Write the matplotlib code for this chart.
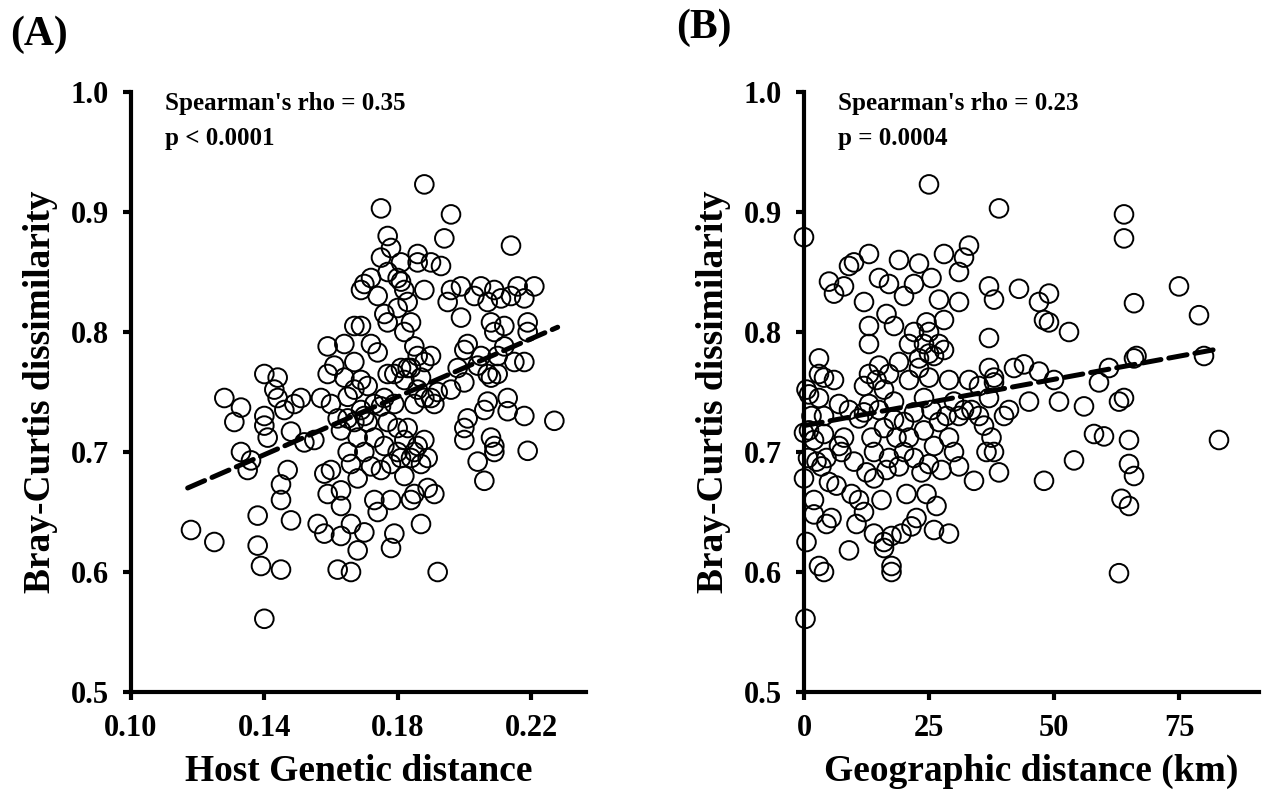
import matplotlib
matplotlib.use("Agg")
import matplotlib.pyplot as plt

plt.rcParams['font.family'] = ['Liberation Serif', 'DejaVu Serif']
plt.rcParams['font.weight'] = 'bold'

# ---------------- Panel A data: host genetic distance vs Bray-Curtis ----------------
genetic_x = [0.118, 0.125, 0.128, 0.131, 0.133, 0.133, 0.135, 0.136, 0.138, 0.138,
             0.139, 0.140, 0.140, 0.140, 0.141, 0.140, 0.143, 0.144, 0.144, 0.145,
             0.145, 0.145, 0.146, 0.147, 0.148, 0.148, 0.149, 0.151, 0.152, 0.155,
             0.156, 0.157, 0.158, 0.158, 0.159, 0.159, 0.159, 0.160, 0.160, 0.161,
             0.162, 0.162, 0.163, 0.163, 0.163, 0.163, 0.164, 0.164, 0.165, 0.165,
             0.165, 0.166, 0.166, 0.166, 0.167, 0.167, 0.167, 0.167, 0.168, 0.168,
             0.168, 0.169, 0.169, 0.169, 0.169, 0.170, 0.170, 0.170, 0.170, 0.171,
             0.171, 0.172, 0.172, 0.172, 0.173, 0.173, 0.173, 0.174, 0.174, 0.174,
             0.175, 0.175, 0.175, 0.175, 0.176, 0.176, 0.176, 0.177, 0.177, 0.177,
             0.177, 0.177, 0.178, 0.178, 0.178, 0.178, 0.179, 0.179, 0.179, 0.180,
             0.180, 0.180, 0.180, 0.181, 0.181, 0.181, 0.181, 0.182, 0.182, 0.182,
             0.182, 0.182, 0.183, 0.183, 0.183, 0.184, 0.184, 0.184, 0.184, 0.185,
             0.185, 0.185, 0.185, 0.186, 0.186, 0.186, 0.186, 0.186, 0.187, 0.187,
             0.187, 0.188, 0.188, 0.188, 0.188, 0.188, 0.189, 0.189, 0.190, 0.190,
             0.190, 0.191, 0.191, 0.192, 0.192, 0.193, 0.194, 0.195, 0.196, 0.196,
             0.196, 0.198, 0.199, 0.199, 0.200, 0.200, 0.200, 0.200, 0.201, 0.201,
             0.203, 0.204, 0.204, 0.205, 0.205, 0.206, 0.206, 0.207, 0.207, 0.207,
             0.208, 0.208, 0.208, 0.209, 0.209, 0.209, 0.209, 0.210, 0.210, 0.211,
             0.212, 0.212, 0.213, 0.213, 0.214, 0.214, 0.215, 0.216, 0.218, 0.218,
             0.218, 0.219, 0.219, 0.219, 0.221, 0.227]
genetic_bc = [0.635, 0.625, 0.745, 0.725, 0.737, 0.700, 0.685, 0.693, 0.647, 0.622,
              0.605, 0.722, 0.730, 0.765, 0.712, 0.561, 0.752, 0.745, 0.762, 0.602,
              0.673, 0.660, 0.735, 0.685, 0.717, 0.643, 0.740, 0.745, 0.708, 0.710,
              0.640, 0.745, 0.632, 0.682, 0.665, 0.765, 0.788, 0.740, 0.685, 0.772,
              0.602, 0.728, 0.655, 0.630, 0.668, 0.718, 0.790, 0.762, 0.746, 0.728,
              0.700, 0.640, 0.600, 0.690, 0.805, 0.775, 0.752, 0.725, 0.618, 0.678,
              0.712, 0.835, 0.805, 0.760, 0.735, 0.840, 0.633, 0.730, 0.700, 0.755,
              0.725, 0.688, 0.790, 0.845, 0.740, 0.712, 0.660, 0.650, 0.830, 0.783,
              0.903, 0.862, 0.738, 0.685, 0.815, 0.745, 0.705, 0.880, 0.850, 0.808,
              0.765, 0.725, 0.870, 0.660, 0.690, 0.620, 0.632, 0.765, 0.740, 0.845,
              0.820, 0.720, 0.700, 0.858, 0.842, 0.770, 0.695, 0.835, 0.800, 0.760,
              0.710, 0.680, 0.825, 0.720, 0.770, 0.808, 0.770, 0.695, 0.660, 0.788,
              0.740, 0.700, 0.665, 0.865, 0.858, 0.780, 0.752, 0.705, 0.640, 0.762,
              0.690, 0.923, 0.835, 0.775, 0.745, 0.710, 0.670, 0.695, 0.858, 0.780,
              0.745, 0.740, 0.665, 0.600, 0.750, 0.855, 0.878, 0.825, 0.898, 0.835,
              0.752, 0.770, 0.838, 0.812, 0.710, 0.720, 0.758, 0.785, 0.790, 0.728,
              0.830, 0.692, 0.772, 0.780, 0.838, 0.735, 0.676, 0.825, 0.742, 0.765,
              0.808, 0.762, 0.712, 0.835, 0.800, 0.700, 0.705, 0.765, 0.780, 0.828,
              0.788, 0.805, 0.745, 0.734, 0.872, 0.830, 0.775, 0.838, 0.828, 0.730,
              0.775, 0.808, 0.800, 0.701, 0.838, 0.726]
genetic_fit_x = [0.117, 0.228]
genetic_fit_y = [0.670, 0.804]

# ---------------- Panel B data: geographic distance vs Bray-Curtis ----------------
geo_km = [0, 0, 0, 0.3, 0.5, 0.5, 0.8, 1, 1, 1.5, 2, 2, 2, 2.5, 3, 3, 3, 3, 3.5, 4,
          4, 4, 4, 4.5, 4.5, 5, 5, 5.5, 6, 6, 6.5, 7, 7, 7.5, 8, 8, 9, 9, 9, 9.5,
          10, 10, 10.5, 11, 11, 12, 12, 12, 12, 12.5, 13, 13, 13, 13, 13, 13.5, 14, 14, 14, 14.5,
          15, 15, 15, 15.5, 16, 16, 16, 16, 16.5, 16.5, 17, 17, 17, 17.5, 17.5, 17.5, 18, 18, 18, 18.5,
          19, 19, 19, 19.5, 20, 20, 20, 20.5, 21, 21, 21, 21.5, 22, 22, 22, 22, 22.5, 23, 23, 23,
          23.5, 24, 24, 24, 24.5, 24.5, 25, 25, 25, 25, 25, 25.5, 25.5, 26, 26, 26, 26.5, 27, 27, 27,
          27.5, 28, 28, 28, 28.5, 29, 29, 29, 30, 30, 31, 31, 31, 31, 32, 32, 33, 33, 33.5, 34,
          35, 35, 36, 36.5, 37, 37, 37, 37, 37.5, 38, 38, 38, 38, 39, 39, 40, 41, 42, 43, 44,
          45, 47, 47, 48, 48, 49, 49, 50, 51, 53, 54, 56, 58, 59, 60, 61, 63, 63, 63.5, 64,
          64, 64, 65, 65, 65, 66, 66, 66, 66.5, 75, 79, 80, 83]
geo_bc = [0.879, 0.716, 0.678, 0.561, 0.625, 0.752, 0.695, 0.748, 0.718, 0.730, 0.660, 0.648, 0.710, 0.692, 0.778, 0.765, 0.745, 0.605, 0.688, 0.600,
          0.762, 0.730, 0.715, 0.640, 0.695, 0.842, 0.675, 0.645, 0.832, 0.760, 0.672, 0.740, 0.705, 0.700, 0.838, 0.712, 0.855, 0.618, 0.735, 0.665,
          0.858, 0.692, 0.640, 0.728, 0.660, 0.825, 0.755, 0.733, 0.650, 0.683, 0.865, 0.790, 0.805, 0.765, 0.740, 0.712, 0.700, 0.678, 0.632, 0.760,
          0.845, 0.772, 0.735, 0.660, 0.625, 0.620, 0.752, 0.720, 0.815, 0.685, 0.840, 0.765, 0.695, 0.600, 0.605, 0.630, 0.805, 0.742, 0.727, 0.712,
          0.860, 0.775, 0.688, 0.632, 0.830, 0.725, 0.700, 0.665, 0.790, 0.760, 0.712, 0.638, 0.840, 0.800, 0.733, 0.695, 0.645, 0.857, 0.778, 0.770,
          0.683, 0.790, 0.745, 0.718, 0.808, 0.665, 0.923, 0.800, 0.782, 0.762, 0.690, 0.845, 0.735, 0.780, 0.705, 0.635, 0.655, 0.827, 0.790, 0.725,
          0.685, 0.865, 0.810, 0.785, 0.730, 0.760, 0.712, 0.632, 0.742, 0.700, 0.850, 0.825, 0.730, 0.688, 0.862, 0.735, 0.872, 0.760, 0.735, 0.676,
          0.755, 0.730, 0.722, 0.700, 0.838, 0.795, 0.770, 0.745, 0.712, 0.827, 0.762, 0.758, 0.700, 0.903, 0.683, 0.730, 0.735, 0.770, 0.836, 0.773,
          0.742, 0.825, 0.767, 0.810, 0.676, 0.832, 0.808, 0.760, 0.742, 0.800, 0.693, 0.738, 0.715, 0.758, 0.713, 0.770, 0.742, 0.599, 0.661, 0.898,
          0.878, 0.745, 0.655, 0.690, 0.710, 0.680, 0.824, 0.778, 0.780, 0.838, 0.814, 0.780, 0.710]
geo_fit_x = [0, 83]
geo_fit_y = [0.722, 0.786]

y_ticks = [0.5, 0.6, 0.7, 0.8, 0.9, 1.0]
a_ticks = [0.10, 0.14, 0.18, 0.22]
b_ticks = [0, 25, 50, 75]

W, H = 1274, 799
fig = plt.figure(figsize=(W / 100, H / 100), dpi=100)

ax_w = 455 / W
ax_h = 600 / H
bottom = (H - 692) / H
axA = fig.add_axes([131 / W, bottom, ax_w, ax_h])
axB = fig.add_axes([804 / W, bottom, ax_w, ax_h])


def style(ax, xticks, xlim, xlabel, xfmt):
    ax.set_ylim(0.5, 1.0)
    ax.set_xlim(*xlim)
    ax.set_yticks(y_ticks)
    ax.set_yticklabels([f"{v:.1f}" for v in y_ticks])
    ax.set_xticks(xticks)
    ax.set_xticklabels([xfmt(v) for v in xticks])
    for s in ['top', 'right']:
        ax.spines[s].set_visible(False)
    for s in ['left', 'bottom']:
        ax.spines[s].set_linewidth(3.0)
    ax.tick_params(direction='out', length=6, width=3, labelsize=22, pad=10)
    ax.set_xlabel(xlabel, fontsize=27, fontweight='bold', labelpad=8)
    ax.set_ylabel('Bray-Curtis dissimilarity', fontsize=27, fontweight='bold', labelpad=9)
    for lab in ax.get_xticklabels() + ax.get_yticklabels():
        lab.set_fontweight('bold')


def annotate(ax, lines):
    ax.text(0.075, 1.0, lines, transform=ax.transAxes, fontsize=18,
            fontweight='bold', va='top', ha='left', linespacing=1.65)


axA.scatter(genetic_x, genetic_bc, s=180, facecolors='none', edgecolors='black',
            linewidths=1.4, zorder=2, clip_on=False)
axA.plot(genetic_fit_x, genetic_fit_y, color='black', lw=3.6, ls='--',
         dash_capstyle='round', zorder=3)
style(axA, a_ticks, (0.10, 0.2365), 'Host Genetic distance', lambda v: f"{v:.2f}")
annotate(axA, "Spearman's rho = 0.35\np < 0.0001")

axB.scatter(geo_km, geo_bc, s=180, facecolors='none', edgecolors='black',
            linewidths=1.4, zorder=2, clip_on=False)
axB.plot(geo_fit_x, geo_fit_y, color='black', lw=3.6, ls='--',
         dash_capstyle='round', zorder=3)
style(axB, b_ticks, (0, 91), 'Geographic distance (km)', lambda v: f"{v:d}")
annotate(axB, "Spearman's rho = 0.23\np = 0.0004")

fig.text(10 / W, 1 - 35 / H, '(A)', fontsize=30, fontweight='bold', va='center', ha='left')
fig.text(676 / W, 1 - 28 / H, '(B)', fontsize=30, fontweight='bold', va='center', ha='left')

fig.savefig('out.png', dpi=100)
